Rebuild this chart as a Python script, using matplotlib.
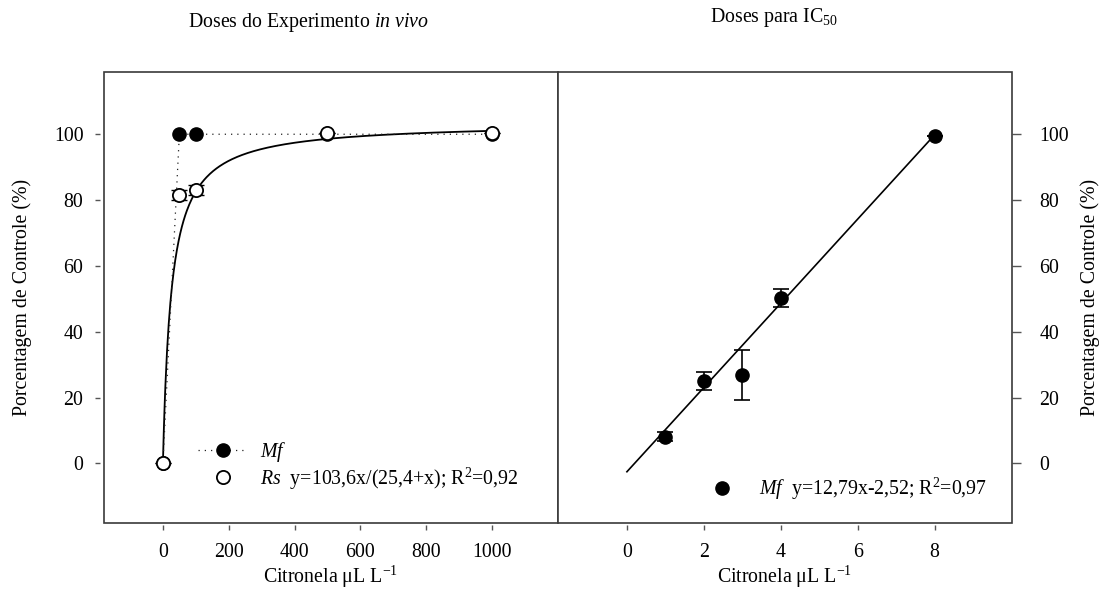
"""Citronela: doses in vivo (Mf / Rs) e doses para IC50 (Mf), dois painéis lado a lado."""
import matplotlib

matplotlib.use("Agg")
import matplotlib.pyplot as plt
import numpy as np
from matplotlib.patches import Rectangle

# painel esquerdo: doses do experimento in vivo
dose_vivo = [0, 50, 100, 500, 1000]
mf_vivo = [0, 100, 100, 100, 100]
rs_vivo = [0, 81.5, 83, 100.3, 100.3]
rs_err = [0, 1.5, 1.5, 0, 0]
rs_a, rs_b = 103.6, 25.4  # y = a*x/(b+x)

# painel direito: doses para IC50
dose_ic = [1, 2, 3, 4, 8]
mf_ic = [8.1, 25.0, 26.8, 50.2, 99.6]
mf_ic_err = [1.4, 2.7, 7.6, 2.7, 0]
lin_a, lin_b = 12.79, -2.52  # y = a*x + b

yticks = [0, 20, 40, 60, 80, 100]
xticks_vivo = [0, 200, 400, 600, 800, 1000]
xticks_ic = [0, 2, 4, 6, 8]

plt.rcParams["font.family"] = ["Liberation Serif", "DejaVu Serif"]
plt.rcParams["mathtext.fontset"] = "custom"
plt.rcParams["mathtext.rm"] = "Liberation Serif"
plt.rcParams["mathtext.it"] = "Liberation Serif:italic"
plt.rcParams["font.size"] = 14.3

FRAME = "#3a3a3a"
W, H = 1109, 591
fig = plt.figure(figsize=(W / 100, H / 100), dpi=100)

x0, x1, x2 = 103.7 / W, 557.7 / W, 1011.5 / W
yb, yt = 1 - 522.7 / H, 1 - 71.7 / H
ax_l = fig.add_axes([x0, yb, x1 - x0, yt - yb])
ax_r = fig.add_axes([x1, yb, x2 - x1, yt - yb])

for ax in (ax_l, ax_r):
    for s in ax.spines.values():
        s.set_visible(False)
    ax.add_patch(Rectangle((0, 0), 1, 1, transform=ax.transAxes, fill=False,
                           ec=FRAME, lw=1.2, clip_on=False, zorder=10))
    ax.set_ylim(-18, 119)
    ax.set_yticks(yticks)
    ax.spines["bottom"].set_position(("outward", 1.5))
    ax.tick_params(axis="x", direction="out", length=3.6, width=1,
                   color="#555555", pad=9.5)

# --- esquerdo ---
ax_l.set_xlim(-180, 1200)
ax_l.set_xticks(xticks_vivo)
ax_l.spines["left"].set_position(("outward", 3))
ax_l.tick_params(axis="y", direction="out", length=3.6, width=1,
                 color="#555555", pad=8)

xs = np.linspace(0, 1000, 400)
ax_l.plot(xs, rs_a * xs / (rs_b + xs), color="black", lw=1.3, zorder=2)
mf_line, = ax_l.plot(dose_vivo, mf_vivo, color="#222222", lw=0.9,
                     dashes=(1, 4), marker="o", ms=9.5, mfc="black",
                     mec="black", zorder=3, label=r"$\mathit{Mf}$")
ax_l.errorbar(dose_vivo, rs_vivo, yerr=rs_err, fmt="none", ecolor="black",
              elinewidth=1, capsize=5.5, capthick=1, zorder=3.5)
rs_pts, = ax_l.plot(dose_vivo, rs_vivo, ls="none", marker="o", ms=9.5,
                    mfc="white", mec="black", mew=1.3, zorder=4,
                    label=r"$\mathit{Rs}$  y=103,6x/(25,4+x); R$^2$=0,92")
ax_l.legend(handles=[mf_line, rs_pts], loc="upper left",
            bbox_to_anchor=(0.2077, 0.184), frameon=False, fontsize=14.3,
            handlelength=2.5, handletextpad=0.6, borderpad=0,
            borderaxespad=0, labelspacing=0.08)

# --- direito ---
ax_r.set_xlim(-1.8, 10)
ax_r.set_xticks(xticks_ic)
ax_r.yaxis.tick_right()
ax_r.tick_params(axis="y", direction="out", length=6.5, width=1,
                 color="#555555", pad=13.5)

xl = np.array([0, 8])
ax_r.plot(xl, lin_a * xl + lin_b, color="black", lw=1.2, zorder=2)
ax_r.errorbar(dose_ic, mf_ic, yerr=mf_ic_err, fmt="none", ecolor="black",
              elinewidth=1.2, capsize=5.8, capthick=1.2, zorder=3)
mf_pts, = ax_r.plot(dose_ic, mf_ic, ls="none", marker="o", ms=9.5,
                    mfc="black", mec="black", zorder=4,
                    label=r"$\mathit{Mf}$  y=12,79x-2,52; R$^2$=0,97")
ax_r.legend(handles=[mf_pts], loc="upper left", bbox_to_anchor=(0.307, 0.103),
            frameon=False, fontsize=14.3, handlelength=2.5, handletextpad=0.6,
            borderpad=0, borderaxespad=0)

# --- textos ---
fig.text(308 / W, 1 - 27 / H, r"Doses do Experimento $\mathit{in\ vivo}$",
         ha="center", va="baseline")
fig.text(774 / W, 1 - 22 / H, r"Doses para IC$_{50}$",
         ha="center", va="baseline")
fig.text((x0 + x1) / 2, 1 - 583 / H, r"Citronela μL L$^{-1}$",
         ha="center", va="baseline")
fig.text((x1 + x2) / 2, 1 - 583 / H, r"Citronela μL L$^{-1}$",
         ha="center", va="baseline")
fig.text(22 / W, 1 - 297 / H, "Porcentagem de Controle (%)", rotation=90,
         ha="center", va="center")
fig.text(1090 / W, 1 - 297 / H, "Porcentagem de Controle (%)", rotation=90,
         ha="center", va="center")

fig.savefig("out.png", dpi=100)
